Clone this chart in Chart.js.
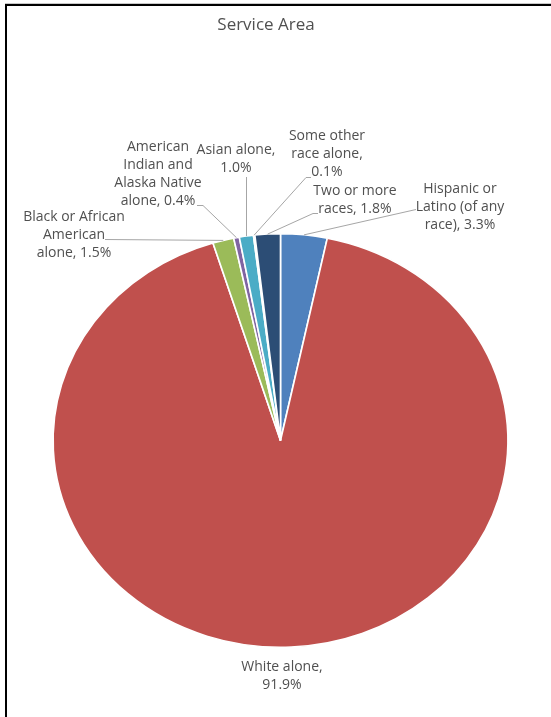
<!DOCTYPE html>
<html>
<head>
<meta charset="utf-8">
<script src="https://cdn.jsdelivr.net/npm/chart.js@4.4.1/dist/chart.umd.min.js"></script>
<style>
  html, body { margin: 0; padding: 0; background: #fff; }
  #wrap { position: relative; width: 551px; height: 717px; }
</style>
</head>
<body>
<div id="wrap"><canvas id="c" width="551" height="717"></canvas></div>
<script>
// Race / ethnicity shares for the service area (percent), clockwise from 12 o'clock
const categories = [
  'Hispanic or Latino (of any race)',
  'White alone',
  'Black or African American alone',
  'American Indian and Alaska Native alone',
  'Asian alone',
  'Some other race alone',
  'Two or more races'
];
const shares = [3.3, 91.9, 1.5, 0.4, 1.0, 0.1, 1.8];
const sliceColors = ['#4F81BD', '#C0504D', '#9BBB59', '#8064A2', '#4BACC6', '#F79646', '#2C4D75'];

// Wrapped label lines (name part; the value is appended from `shares`)
const labelLines = [
  ['Hispanic or', 'Latino (of any', 'race), '],
  ['White alone,', ''],
  ['Black or African', 'American', 'alone, '],
  ['American', 'Indian and', 'Alaska Native', 'alone, '],
  ['Asian alone,', ''],
  ['Some other', 'race alone,', ''],
  ['Two or more', 'races, ']
];

// Label placement: text centre x, first-line y, and where the leader line leaves the label
const labelLayout = [
  { x: 460, y: 189, lead: [[416, 209]] },
  { x: 282, y: 667, lead: null },
  { x: 74,  y: 217, lead: [[105, 239]] },
  { x: 158, y: 147, lead: [[197, 205], [203, 205]] },
  { x: 236, y: 150, lead: 'vertical', leadTop: 177 },
  { x: 327, y: 136, lead: [[311, 177], [306, 177]] },
  { x: 355, y: 191, lead: [[318, 213], [313, 213]] }
];

const STRETCH_X = 1.1;   // pie is drawn as a slightly wide ellipse
const LINE_H = 18;
const TEXT_COLOR = '#505050';
const LEADER_COLOR = '#A6A6A6';
const FONT = '"Open Sans", "DejaVu Sans", sans-serif';

function fmt(v) { return v.toFixed(1) + '%'; }

// Stretch the pie horizontally around its centre
const ellipsePlugin = {
  id: 'ellipse',
  beforeDatasetsDraw(chart) {
    const arc = chart.getDatasetMeta(0).data[0];
    const ctx = chart.ctx;
    ctx.save();
    ctx.translate(arc.x, arc.y);
    ctx.scale(STRETCH_X, 1);
    ctx.translate(-arc.x, -arc.y);
  },
  afterDatasetsDraw(chart) {
    chart.ctx.restore();
  }
};

// Frame, title, data labels and leader lines
const decorPlugin = {
  id: 'decor',
  beforeDraw(chart) {
    const ctx = chart.ctx;
    ctx.save();
    ctx.fillStyle = '#fff';
    ctx.fillRect(0, 0, chart.width, chart.height);
    ctx.fillStyle = '#C8C8C8';
    ctx.fillRect(5, 3, chart.width - 5, 1);
    ctx.fillStyle = '#000';
    ctx.fillRect(5, 4, chart.width - 5, 2);
    ctx.fillRect(5, 4, 2, chart.height - 4);
    ctx.restore();
  },
  afterDraw(chart) {
    const ctx = chart.ctx;
    const meta = chart.getDatasetMeta(0);
    ctx.save();

    ctx.fillStyle = TEXT_COLOR;
    ctx.font = '17px ' + FONT;
    ctx.textAlign = 'center';
    ctx.textBaseline = 'middle';
    ctx.fillText('Service Area', 266, 25);

    ctx.strokeStyle = LEADER_COLOR;
    ctx.lineWidth = 1;
    meta.data.forEach((arc, i) => {
      const L = labelLayout[i];
      if (!L.lead) return;
      const mid = (arc.startAngle + arc.endAngle) / 2;
      const ex = arc.x + STRETCH_X * arc.outerRadius * Math.cos(mid);
      const ey = arc.y + arc.outerRadius * Math.sin(mid);
      ctx.beginPath();
      if (L.lead === 'vertical') {
        ctx.moveTo(Math.round(ex) + 0.5, L.leadTop);
        ctx.lineTo(Math.round(ex) + 0.5, ey);
      } else {
        L.lead.forEach((p, k) => k === 0 ? ctx.moveTo(p[0], p[1] + 0.5) : ctx.lineTo(p[0], p[1] + 0.5));
        ctx.lineTo(ex, ey);
      }
      ctx.stroke();
    });

    ctx.fillStyle = TEXT_COLOR;
    ctx.font = '14px ' + FONT;
    labelLines.forEach((lines, i) => {
      const L = labelLayout[i];
      const n = lines.length;
      lines.forEach((t, k) => {
        const txt = (k === n - 1) ? t + fmt(shares[i]) : t;
        ctx.fillText(txt, L.x, L.y + k * LINE_H);
      });
    });
    ctx.restore();
  }
};

new Chart(document.getElementById('c'), {
  type: 'pie',
  data: {
    labels: categories,
    datasets: [{
      data: shares,
      backgroundColor: sliceColors,
      borderColor: '#FFFFFF',
      borderWidth: 1.5,
      clip: false
    }]
  },
  options: {
    responsive: false,
    animation: false,
    events: [],
    layout: { padding: { left: 73, right: 63, top: 232, bottom: 68 } },
    plugins: {
      legend: { display: false },
      title: { display: false },
      tooltip: { enabled: false }
    }
  },
  plugins: [ellipsePlugin, decorPlugin]
});
</script>
</body>
</html>
